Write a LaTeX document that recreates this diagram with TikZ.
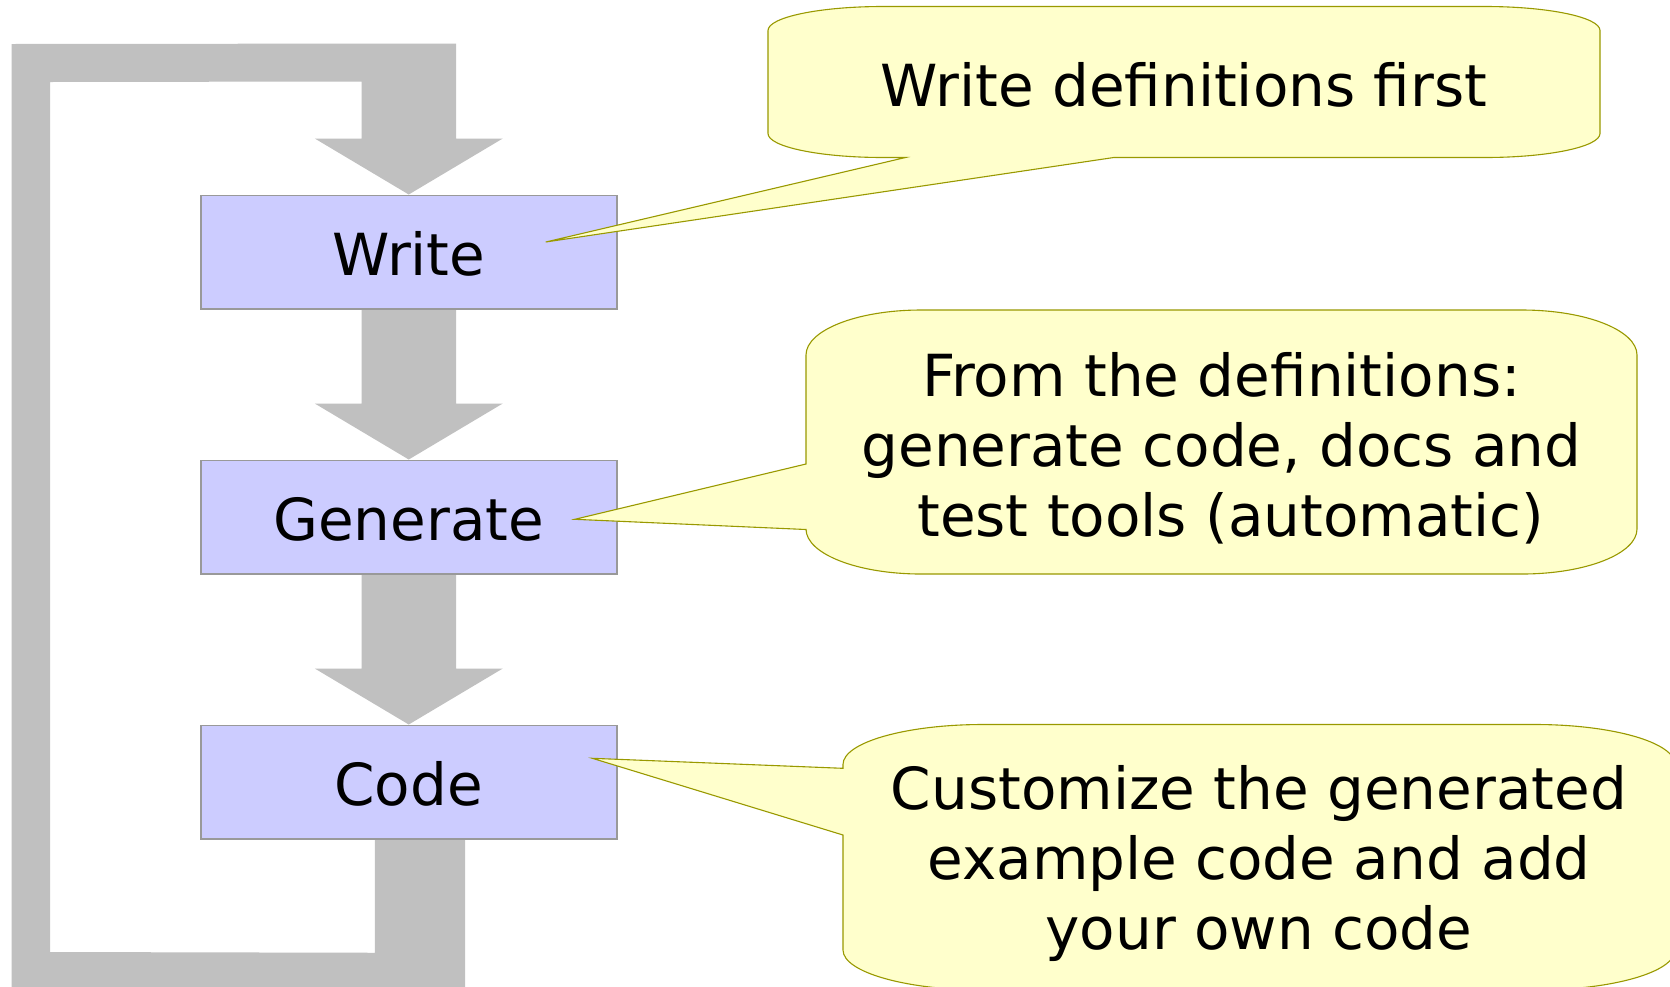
\documentclass[tikz,border=0pt]{standalone}
\usepackage{fontspec}
\setmainfont{DejaVu Sans}
\usetikzlibrary{calc}

\definecolor{boxfill}{HTML}{CCCCFF}
\definecolor{boxline}{HTML}{999999}
\definecolor{flowgray}{HTML}{C0C0C0}
\definecolor{notefill}{HTML}{FFFFCC}
\definecolor{noteline}{HTML}{999900}

\tikzset{
  stagebox/.style={draw=boxline, line width=1.5pt, fill=boxfill,
    minimum width=416pt, minimum height=113.5pt, inner sep=0pt,
    text height=46pt, text depth=0pt},
  flow/.style={fill=flowgray},
  note/.style={draw=noteline, line width=1.1pt, fill=notefill, line join=miter},
  notetext/.style={anchor=base, inner sep=0pt},
}

\begin{document}
\begin{tikzpicture}[x=1pt, y=1pt, font=\fontsize{58}{70}\selectfont]
\useasboundingbox (0,0) rectangle (1670,-986);
\fill[white] (0,0) rectangle (1670,-986);
\clip (0,0) rectangle (1670,-986);

% process stages (placed first so the arrows can refer to them)
\node[stagebox] (write) at (408.75,-252) {Write};
\node[stagebox] (gen)   at (408.75,-517) {Generate};
\node[stagebox] (code)  at (408.75,-782) {Code};

% feedback loop from Code back into Write
\coordinate (cL) at ($(code.south)+(-34,0)$);
\coordinate (cR) at ($(code.south)+(56.25,0)$);
\coordinate (wN) at (write.north);
\fill[flow] (cL) -- ($(cL)+(0,-113.25)$) -- (50,-952) -- (50,-82)
  -- ($(wN)+(-47.25,113)$) -- ($(wN)+(-47.25,56)$) -- ($(wN)+(-94,56)$)
  -- (wN) -- ($(wN)+(94,56)$) -- ($(wN)+(47.25,56)$) -- ($(wN)+(47.25,151)$)
  -- (11.6,-44) -- (11.6,-1000) -- ($(cR)+(0,-161.25)$) -- (cR) -- cycle;

% block arrows between stages
\foreach \a/\b in {write/gen, gen/code}{
  \fill[flow] ($(\a.south)+(-47.25,0)$) -- ($(\b.north)+(-47.25,56)$)
    -- ($(\b.north)+(-94,56)$) -- (\b.north) -- ($(\b.north)+(94,56)$)
    -- ($(\b.north)+(47.25,56)$) -- ($(\a.south)+(47.25,0)$) -- cycle;
}

% redraw the stage boxes above the arrows
\node[stagebox] at (write) {Write};
\node[stagebox] at (gen) {Generate};
\node[stagebox] at (code) {Code};

% callout pointer tips
\coordinate (wtip) at ($(write.center)+(137,10)$);
\coordinate (gtip) at ($(gen.center)+(166,-2.3)$);
\coordinate (ctip) at ($(code.center)+(183.6,23.7)$);

% callout 1: pointer on the lower edge
\draw[note] (883,-6.5) -- (1485,-6.5)
  arc[start angle=90, end angle=0, x radius=115pt, y radius=24pt]
  -- (1600,-133.5)
  arc[start angle=0, end angle=-90, x radius=115pt, y radius=24pt]
  -- (1113.8,-157.5) -- (wtip) -- (905.5,-157.5) -- (883,-157.5)
  arc[start angle=270, end angle=180, x radius=115pt, y radius=24pt]
  -- (768,-30.5)
  arc[start angle=180, end angle=90, x radius=115pt, y radius=24pt]
  -- cycle;
\node[notetext] (t1) at (1184,-106)
  {\begin{tabular}[t]{@{}c@{}}Write definitions first\end{tabular}};

% callout 2: pointer on the left edge
\draw[note] (921,-310) -- (1522,-310)
  arc[start angle=90, end angle=0, x radius=115pt, y radius=45pt]
  -- (1637,-529)
  arc[start angle=0, end angle=-90, x radius=115pt, y radius=45pt]
  -- (921,-574)
  arc[start angle=270, end angle=180, x radius=115pt, y radius=45pt]
  -- (806,-529.5) -- (gtip) -- (806,-464) -- (806,-355)
  arc[start angle=180, end angle=90, x radius=115pt, y radius=45pt]
  -- cycle;
\node[notetext] (t2) at (1221.5,-396)
  {\begin{tabular}[t]{@{}c@{}}From the definitions:\\generate code, docs and\\\ test tools (automatic)\end{tabular}};

% callout 3: pointer on the left edge
\draw[note] (983,-724.5) -- (1535,-724.5)
  arc[start angle=90, end angle=0, x radius=140pt, y radius=40pt]
  -- (1675,-950)
  arc[start angle=0, end angle=-90, x radius=140pt, y radius=40pt]
  -- (983,-990)
  arc[start angle=270, end angle=180, x radius=140pt, y radius=40pt]
  -- (843,-835) -- (ctip) -- (843,-768.3) -- (843,-764.5)
  arc[start angle=180, end angle=90, x radius=140pt, y radius=40pt]
  -- cycle;
\node[notetext] (t3) at (1259,-809.5)
  {\begin{tabular}[t]{@{}c@{}}Customize the generated\\example code and add\\your own code\end{tabular}};
\end{tikzpicture}
\end{document}
